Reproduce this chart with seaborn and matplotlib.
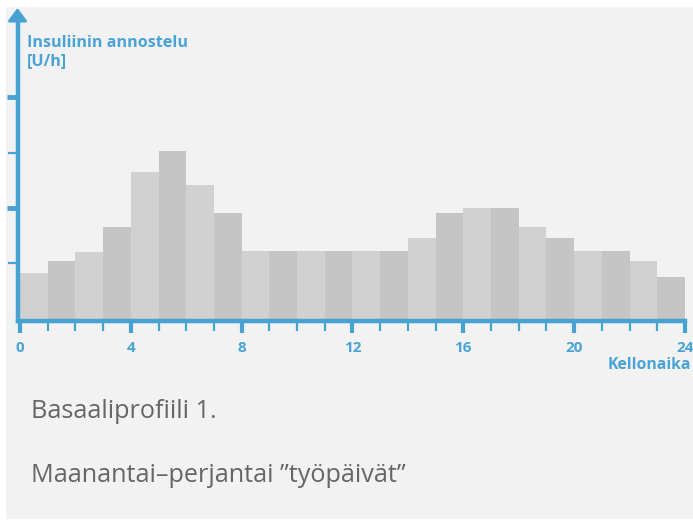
import numpy as np
import pandas as pd
import matplotlib.pyplot as plt
import matplotlib.patches as mpatches
from matplotlib.ticker import MultipleLocator
import seaborn as sns

# Basal profile 1: hourly insulin rate (tick units)
hours = list(range(24))
rates = [0.82, 1.04, 1.21, 1.65, 2.65, 3.03, 2.42, 1.90,
         1.22, 1.22, 1.22, 1.22, 1.22, 1.22, 1.45, 1.90,
         2.00, 2.00, 1.65, 1.45, 1.22, 1.22, 1.04, 0.75]
x_ticks = [0, 4, 8, 12, 16, 20, 24]

BLUE = '#47a1d3'
TEXT_BLUE = '#4aa3d5'
bar_colors = ['#d1d1d1', '#c5c5c5']

df = pd.DataFrame({'hour': hours, 'rate': rates})
df['mid'] = df['hour'] + 0.5
df['shade'] = df['hour'] % 2

sns.set_style('white')
plt.rcParams['font.family'] = ['Open Sans', 'DejaVu Sans']

W, H = 693, 529
fig = plt.figure(figsize=(W / 100, H / 100), dpi=100)
fig.patch.set_facecolor('white')
# light grey panel behind everything
fig.patches.append(mpatches.Rectangle((6 / W, 1 - 519 / H), (W - 6) / W, (519 - 7) / H,
                                      transform=fig.transFigure, facecolor='#f2f2f2',
                                      edgecolor='none', zorder=-5))

ax = fig.add_axes([17.5 / W, 1 - 320.5 / H, (685 - 17.5) / W, (320.5 - 16) / H])
ax.set_facecolor('none')

sns.barplot(data=df, x='mid', y='rate', hue='shade', palette=bar_colors,
            native_scale=True, width=1, dodge=False, legend=False,
            saturation=1, linewidth=0, ax=ax)

ax.set_xlim(-0.09, 24.0)
ax.set_ylim(-0.036, (318.5 - 16) / 55.3)

for side in ['top', 'right']:
    ax.spines[side].set_visible(False)
for side in ['left', 'bottom']:
    ax.spines[side].set_color(BLUE)
    ax.spines[side].set_linewidth(3.2)
    ax.spines[side].set_zorder(5)

ax.xaxis.set_major_locator(plt.FixedLocator(x_ticks))
ax.xaxis.set_minor_locator(MultipleLocator(1))
ax.set_xticklabels([str(t) for t in x_ticks])
ax.yaxis.set_major_locator(plt.FixedLocator([2, 4]))
ax.yaxis.set_minor_locator(plt.FixedLocator([1, 3]))
ax.set_yticklabels([])

ax.tick_params(axis='x', which='major', direction='out', length=8.5, width=3,
               color=BLUE, labelcolor=TEXT_BLUE, labelsize=11, pad=6, bottom=True)
ax.tick_params(axis='x', which='minor', direction='out', length=7, width=1.6,
               color=BLUE, bottom=True)
ax.tick_params(axis='y', which='major', direction='out', length=8, width=3.5,
               color=BLUE, left=True)
ax.tick_params(axis='y', which='minor', direction='out', length=7, width=1.6,
               color=BLUE, left=True)
for lab in ax.get_xticklabels():
    lab.set_fontweight('bold')

ax.set_xlabel('')
ax.set_ylabel('')

# arrow head on top of the y axis
ax.annotate('', xy=(17.5 / W, 1 - 8 / H), xytext=(17.5 / W, 1 - 22 / H),
            xycoords='figure fraction', annotation_clip=False,
            arrowprops=dict(arrowstyle='-|>,head_length=0.6,head_width=0.45',
                            color=BLUE, lw=2, mutation_scale=13,
                            shrinkA=0, shrinkB=0))

fig.text(27 / W, 1 - 47 / H, 'Insuliinin annostelu', color=TEXT_BLUE,
         fontsize=11.6, fontweight='bold', va='baseline', ha='left')
fig.text(27 / W, 1 - 65 / H, '[U/h]', color=TEXT_BLUE,
         fontsize=11.6, fontweight='bold', va='baseline', ha='left')
fig.text(691 / W, 1 - 365 / H, 'Kellonaika', color=TEXT_BLUE, fontsize=11.3,
         fontweight='bold', va='center', ha='right')

fig.text(31 / W, 1 - 418 / H, 'Basaaliprofiili 1.', color='#666666', fontsize=18.2,
         va='baseline', ha='left')
fig.text(31 / W, 1 - 482 / H, 'Maanantai–perjantai ”työpäivät”', color='#666666',
         fontsize=18.2, va='baseline', ha='left')

fig.savefig('out.png', dpi=100, facecolor=fig.get_facecolor())
